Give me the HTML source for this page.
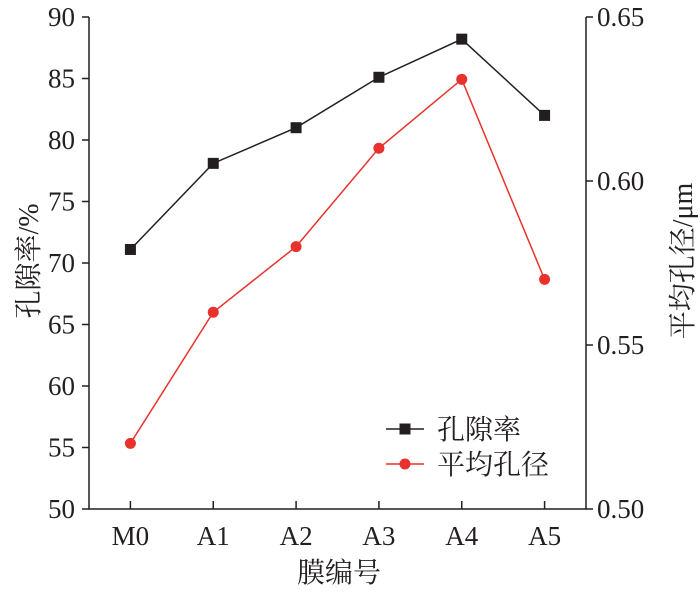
<!DOCTYPE html>
<html><head><meta charset="utf-8"><style>
body{margin:0;background:#fff}
svg text{font-family:"Liberation Serif","Noto Serif CJK SC",serif;fill:#231f20}
</style></head><body>
<svg width="700" height="593" viewBox="0 0 700 593" xmlns="http://www.w3.org/2000/svg" id="svg"></svg>
<script>
const categories=["M0","A1","A2","A3","A4","A5"];
const porosity=[71.1,78.1,81.0,85.1,88.2,82.0];
const poreSize=[0.520,0.560,0.580,0.610,0.631,0.570];
const leftTicks=[50,55,60,65,70,75,80,85,90];
const rightTicks=["0.50","0.55","0.60","0.65"];
const NS="http://www.w3.org/2000/svg";
const svg=document.getElementById('svg');
const X0=89,X1=586,Y0=509,Y1=17;
const xs=i=>X0+(i+0.5)*(X1-X0)/categories.length;
const yl=v=>Y0-(v-50)/40*(Y0-Y1);
const yr=v=>Y0-(v-0.5)/0.15*(Y0-Y1);
function mk(tag,attrs,text){const e=document.createElementNS(NS,tag);for(const k in attrs)e.setAttribute(k,attrs[k]);if(text!==undefined)e.textContent=text;svg.appendChild(e);return e;}
let e;
e=mk('path',{d:`M${X0} ${Y1}V${Y0}H${X1}V${Y1}`,fill:'none',stroke:'#231f20','stroke-width':1.5});


leftTicks.forEach(v=>{
 e=mk('line',{x1:X0-7,x2:X0,y1:yl(v),y2:yl(v),stroke:'#231f20','stroke-width':1.5});
 
 
 e=mk('text',{x:X0-14,y:yl(v)+9,'text-anchor':'end','font-size':27},String(v));
 
 
});
rightTicks.forEach(t=>{
 const v=parseFloat(t);
 e=mk('line',{x1:X1,x2:X1+7,y1:yr(v),y2:yr(v),stroke:'#231f20','stroke-width':1.5});
 
 
 e=mk('text',{x:X1+11,y:yr(v)+9,'font-size':27},t);
 
 
});
categories.forEach((c,i)=>{
 e=mk('line',{x1:xs(i),x2:xs(i),y1:Y0-8,y2:Y0,stroke:'#231f20','stroke-width':1.5});
 
 
 e=mk('text',{x:xs(i),y:545,'text-anchor':'middle','font-size':27},c);
 
 
});
e=mk('polyline',{points:porosity.map((v,i)=>xs(i)+','+yl(v)).join(' '),fill:'none',stroke:'#231f20','stroke-width':1.5});


porosity.forEach((v,i)=>{
 e=mk('rect',{x:xs(i)-5.5,y:yl(v)-5.5,width:11,height:11,fill:'#231f20'});
 
 
});
e=mk('polyline',{points:poreSize.map((v,i)=>xs(i)+','+yr(v)).join(' '),fill:'none',stroke:'#e8322b','stroke-width':1.5});


poreSize.forEach((v,i)=>{
 e=mk('circle',{cx:xs(i),cy:yr(v),r:5.5,fill:'#e8322b'});
 
 
});
// legend
e=mk('line',{x1:386,x2:424,y1:429,y2:429,stroke:'#231f20','stroke-width':1.5});


e=mk('rect',{x:399.5,y:423.5,width:11,height:11,fill:'#231f20'});


e=mk('text',{x:437,y:439,'font-size':28},'孔隙率');


e=mk('line',{x1:386,x2:424,y1:464,y2:464,stroke:'#e8322b','stroke-width':1.5});


e=mk('circle',{cx:405,cy:464,r:5.5,fill:'#e8322b'});


e=mk('text',{x:437,y:474,'font-size':28},'平均孔径');


// axis titles
e=mk('text',{x:0,y:0,'font-size':28,'text-anchor':'middle',transform:'translate(38,261) rotate(-90)'},'孔隙率/%');


e=mk('text',{x:0,y:0,'font-size':28,'text-anchor':'middle',transform:'translate(692,261) rotate(-90)'},'平均孔径/μm');


e=mk('text',{x:339,y:582,'font-size':28,'text-anchor':'middle'},'膜编号');


</script>
</body></html>
